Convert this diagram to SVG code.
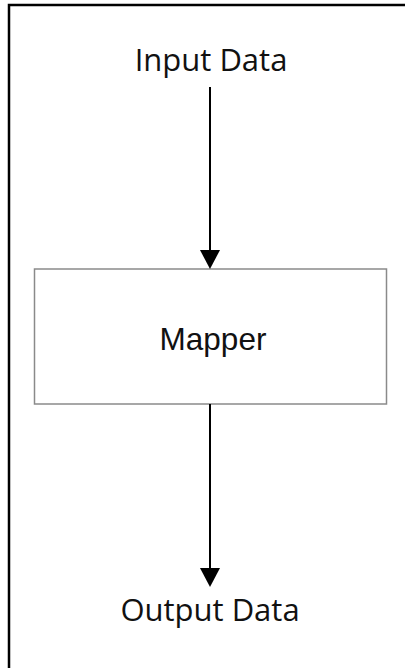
<svg xmlns="http://www.w3.org/2000/svg" width="405" height="668" viewBox="0 0 405 668">
<style>
.lbl{font-family:"Open Sans","Noto Sans",sans-serif;font-size:31px;fill:#111;text-anchor:middle}
.box{fill:#fff;stroke:#8a8a8a;stroke-width:1.5}
.mtxt{font-family:"Liberation Sans",Arial,sans-serif;font-size:31.5px;fill:#111;text-anchor:middle}
.conn{stroke:#000;stroke-width:2;fill:none}
</style>
<rect x="0" y="0" width="405" height="668" fill="#fff"/>
<path d="M9,668 V5 H405" fill="none" stroke="#000" stroke-width="2.5"/>
<g id="input">
<text class="lbl" x="211" y="71">Input Data</text>
</g>
<g id="mapper">
<rect class="box" x="34.5" y="269" width="352" height="135"/>
<text class="mtxt" x="213" y="350">Mapper</text>
</g>
<g id="output">
<text class="lbl" x="210" y="621">Output Data</text>
</g>
<g id="connectors">
<line class="conn" x1="210" y1="87" x2="210" y2="252"/>
<path d="M200,250 L220,250 L210,269 Z" fill="#000"/>
<line class="conn" x1="210" y1="404" x2="210" y2="570"/>
<path d="M200,568 L220,568 L210,587 Z" fill="#000"/>
</g>
</svg>
